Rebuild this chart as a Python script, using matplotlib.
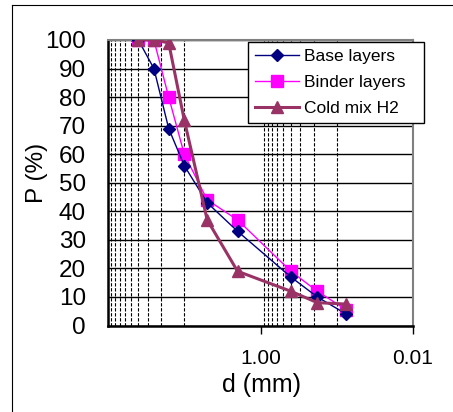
import matplotlib
matplotlib.use('Agg')
import matplotlib.pyplot as plt
from matplotlib.ticker import FixedLocator, FixedFormatter, NullFormatter
from matplotlib.lines import Line2D

plt.rcParams['font.family'] = ['Liberation Sans', 'DejaVu Sans']

# sieve sizes (mm) and passing (%)
sizes = [40, 25, 16, 10, 5, 2, 0.4, 0.18, 0.075]
base_layers = [100, 90, 69, 56, 43, 33, 17, 10, 4]
binder_layers = [100, 100, 80, 60, 44, 37, 19, 12, 5.5]
cold_mix_h2 = [100, 100, 99, 72, 37, 19, 12, 8, 7.5]

y_ticks = [0, 10, 20, 30, 40, 50, 60, 70, 80, 90, 100]
x_major = [1, 0.01]
x_major_labels = ['1.00', '0.01']
x_grid = [10, 20, 30, 40, 50, 60, 70, 80, 90, 1,
          0.1, 0.2, 0.3, 0.4, 0.5, 0.6, 0.7, 0.8, 0.9]

W, H = 453, 412
fig = plt.figure(figsize=(W / 100, H / 100), dpi=100)

# outer frame (only left and top visible)
fig.add_artist(Line2D([12 / W, 12 / W], [0, 1 - 5 / H], color='k', lw=0.8))
fig.add_artist(Line2D([12 / W, 1], [1 - 5 / H, 1 - 5 / H], color='k', lw=0.8))

ax = fig.add_axes([108 / W, 1 - 325.5 / H, 305 / W, 285.5 / H])

ax.plot(sizes, base_layers, color='#000080', lw=1.0, marker='D', ms=6,
        label='Base layers', zorder=4)
ax.plot(sizes, binder_layers, color='#FF00FF', lw=1.0, marker='s', ms=9,
        label='Binder layers', zorder=3)
ax.plot(sizes, cold_mix_h2, color='#993366', lw=2.2, marker='^', ms=9,
        label='Cold mix H2', zorder=5)

ax.set_xscale('log', base=100)
ax.set_xlim(100, 0.01)
ax.set_ylim(0, 100)

ax.xaxis.set_major_locator(FixedLocator(x_major))
ax.xaxis.set_major_formatter(FixedFormatter(x_major_labels))
ax.xaxis.set_minor_locator(FixedLocator(x_grid))
ax.xaxis.set_minor_formatter(NullFormatter())
ax.tick_params(axis='x', which='major', direction='out', length=6, width=1,
               pad=11, labelsize=15)
ax.tick_params(axis='x', which='minor', length=0)
ax.grid(True, axis='x', which='minor', color='k', lw=0.8, ls=(0, (3, 1.5)))

ax.set_yticks(y_ticks)
ax.tick_params(axis='y', length=0, pad=16, labelsize=17.5)
ax.grid(True, axis='y', which='major', color='k', lw=1.0)
ax.set_axisbelow(True)

for side in ['left', 'bottom']:
    ax.spines[side].set_color('k')
    ax.spines[side].set_linewidth(1.8)
for side in ['top', 'right']:
    ax.spines[side].set_color('#808080')
    ax.spines[side].set_linewidth(1.5)

ax.set_xlabel('d (mm)', fontsize=18, va='center')
ax.xaxis.set_label_coords((262 - 108) / 305, -(385 - 325.5) / 285.5)
fig.text(37.5 / W, 1 - 173 / H, 'P (%)', fontsize=17.5, rotation=90,
         ha='center', va='center')

leg = ax.legend(loc='upper left', bbox_to_anchor=(248 / W, 1 - 42 / H, 176 / W, 0),
                bbox_transform=fig.transFigure, mode='expand', borderaxespad=0,
                fontsize=12.5, handlelength=2.55, handletextpad=0.25,
                labelspacing=0.62, borderpad=0.4, fancybox=False,
                framealpha=1, edgecolor='k')
leg.get_frame().set_linewidth(1.0)
leg.set_zorder(10)

fig.savefig('out.png', dpi=100)
